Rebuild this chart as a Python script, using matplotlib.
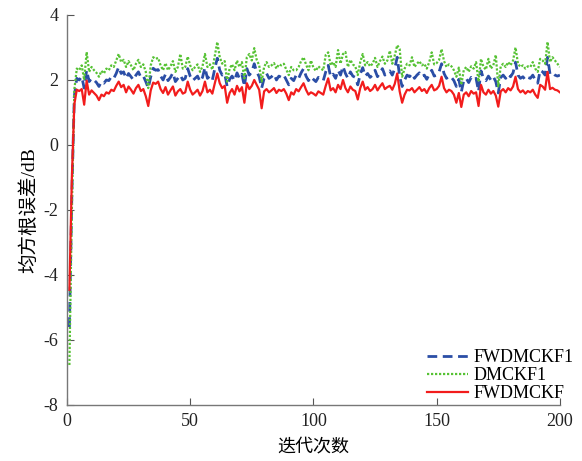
import matplotlib
matplotlib.use("Agg")
import matplotlib.pyplot as plt

iterations = list(range(1, 201))

fwdmckf = [
    -4.46, -1.0, 1.25, 1.70, 1.66, 1.72, 1.24, 1.98, 1.55, 1.68,
    1.60, 1.52, 1.38, 1.55, 1.50, 1.62, 1.58, 1.70, 1.66, 1.82,
    1.95, 1.78, 1.85, 1.62, 1.80, 1.70, 1.58, 1.75, 1.85, 1.66,
    1.72, 1.50, 1.20, 1.68, 1.92, 1.88, 1.95, 1.72, 1.60, 1.78,
    1.55, 1.68, 1.80, 1.52, 1.65, 1.72, 1.58, 1.62, 1.95, 1.70,
    1.55, 1.62, 1.70, 1.52, 1.66, 1.95, 1.62, 1.70, 1.58, 1.90,
    2.20, 1.90, 1.75, 1.82, 1.30, 1.60, 1.72, 1.55, 1.82, 1.65,
    1.78, 1.30, 1.90, 1.72, 1.82, 2.00, 1.85, 1.70, 1.13, 1.65,
    1.72, 1.62, 1.68, 1.75, 1.60, 1.70, 1.66, 1.72, 1.58, 1.38,
    1.62, 1.55, 1.72, 1.65, 1.78, 1.90, 1.70, 1.55, 1.62, 1.58,
    1.52, 1.65, 1.60, 1.55, 1.82, 2.05, 1.68, 1.75, 1.62, 1.85,
    1.72, 2.00, 1.75, 1.62, 1.80, 1.70, 1.66, 1.40, 1.75, 1.95,
    1.70, 1.78, 1.66, 1.72, 1.85, 1.68, 1.80, 1.90, 1.72, 1.78,
    1.82, 1.70, 1.88, 2.20, 1.65, 1.30, 1.55, 1.70, 1.68, 1.75,
    1.62, 1.70, 1.78, 1.66, 1.72, 1.60, 1.75, 1.85, 1.68, 1.72,
    1.82, 2.10, 1.75, 1.62, 1.70, 1.66, 1.55, 1.30, 1.60, 1.17,
    1.55, 1.62, 1.50, 1.66, 1.58, 1.62, 1.20, 1.85, 1.62, 1.55,
    1.70, 1.58, 1.66, 1.52, 1.18, 1.65, 1.72, 1.62, 1.75, 1.68,
    1.80, 2.10, 1.72, 1.62, 1.68, 1.58, 1.66, 1.62, 1.70, 1.55,
    1.45, 1.85, 1.80, 1.70, 2.25, 1.72, 1.76, 1.70, 1.68, 1.62,
]

fwdmckf1 = [
    -5.60, -1.50, 1.50, 2.05, 2.00, 2.10, 1.75, 2.30, 1.95, 2.05,
    2.00, 1.92, 1.80, 1.95, 1.90, 2.00, 1.98, 2.10, 2.05, 2.20,
    2.40, 2.20, 2.25, 2.05, 2.20, 2.10, 2.00, 2.15, 2.25, 2.08,
    2.12, 1.95, 1.75, 2.10, 2.36, 2.30, 2.32, 2.12, 2.00, 2.18,
    1.98, 2.08, 2.22, 1.95, 2.05, 2.15, 2.00, 2.05, 2.35, 2.12,
    1.98, 2.05, 2.12, 1.95, 2.08, 2.38, 2.05, 2.12, 2.00, 2.35,
    2.67, 2.30, 2.15, 2.20, 1.80, 2.02, 2.12, 1.98, 2.22, 2.05,
    2.18, 1.80, 2.35, 2.15, 2.25, 2.50, 2.25, 2.10, 1.75, 2.05,
    2.20, 2.05, 2.10, 2.18, 2.00, 2.12, 2.08, 2.15, 2.00, 1.85,
    2.05, 1.98, 2.15, 2.05, 2.22, 2.35, 2.12, 1.98, 2.10, 2.02,
    1.95, 2.08, 2.02, 1.98, 2.25, 2.45, 2.10, 2.18, 2.05, 2.30,
    2.15, 2.42, 2.20, 2.05, 2.25, 2.12, 2.08, 1.85, 2.18, 2.38,
    2.12, 2.20, 2.08, 2.15, 2.30, 2.10, 2.22, 2.35, 2.15, 2.22,
    2.28, 2.15, 2.35, 2.70, 2.10, 1.80, 2.00, 2.15, 2.10, 2.20,
    2.05, 2.15, 2.22, 2.10, 2.15, 2.02, 2.18, 2.30, 2.12, 2.15,
    2.25, 2.50, 2.20, 2.05, 2.12, 2.08, 1.98, 1.80, 2.02, 1.63,
    1.98, 2.05, 1.92, 2.08, 2.00, 2.05, 1.65, 2.28, 2.05, 1.98,
    2.12, 2.00, 2.10, 1.95, 1.60, 2.08, 2.15, 2.05, 2.18, 2.10,
    2.22, 2.55, 2.15, 2.05, 2.10, 2.00, 2.08, 2.05, 2.15, 2.00,
    1.90, 2.30, 2.25, 2.15, 2.70, 2.18, 2.22, 2.15, 2.12, 2.15,
]

dmckf1 = [
    -6.77, -2.00, 1.70, 2.35, 2.30, 2.45, 2.00, 2.86, 2.25, 2.40,
    2.30, 2.22, 2.10, 2.28, 2.20, 2.35, 2.30, 2.45, 2.40, 2.60,
    2.80, 2.55, 2.62, 2.40, 2.58, 2.45, 2.30, 2.50, 2.62, 2.40,
    2.48, 2.25, 1.75, 2.45, 2.70, 2.65, 2.68, 2.45, 2.30, 2.52,
    2.30, 2.42, 2.58, 2.25, 2.40, 2.80, 2.35, 2.40, 2.72, 2.45,
    2.30, 2.40, 2.48, 2.25, 2.42, 2.80, 2.40, 2.48, 2.32, 2.75,
    3.17, 2.70, 2.50, 2.58, 1.95, 2.35, 2.48, 2.30, 2.60, 2.40,
    2.55, 2.05, 2.70, 2.80, 2.60, 2.98, 2.62, 2.45, 1.95, 2.40,
    2.55, 2.40, 2.45, 2.52, 2.35, 2.48, 2.45, 2.50, 2.32, 2.15,
    2.40, 2.30, 2.30, 2.40, 2.58, 2.70, 2.48, 2.30, 2.60, 2.38,
    2.28, 2.42, 2.35, 2.30, 2.77, 2.85, 2.45, 2.55, 2.40, 2.92,
    2.50, 2.80, 2.86, 2.40, 2.62, 2.48, 2.42, 2.15, 2.55, 2.80,
    2.45, 2.55, 2.42, 2.50, 2.68, 2.40, 2.58, 2.72, 2.50, 2.60,
    2.90, 2.50, 2.75, 3.07, 2.95, 2.10, 2.35, 2.50, 2.45, 2.70,
    2.40, 2.50, 2.58, 2.45, 2.50, 2.35, 2.55, 2.85, 2.48, 2.52,
    2.62, 2.95, 2.58, 2.40, 2.48, 2.42, 2.30, 2.10, 2.38, 1.85,
    2.30, 2.40, 2.25, 2.42, 2.35, 2.55, 1.95, 2.65, 2.40, 2.32,
    2.65, 2.35, 2.45, 2.77, 1.80, 2.42, 2.50, 2.40, 2.55, 2.45,
    2.60, 3.00, 2.50, 2.40, 2.45, 2.35, 2.42, 2.40, 2.55, 2.35,
    2.25, 2.65, 2.60, 2.50, 3.17, 2.55, 2.70, 2.60, 2.50, 2.40,
]

series_names = ["FWDMCKF1", "DMCKF1", "FWDMCKF"]
x_ticks = [0, 50, 100, 150, 200]
y_ticks = [-8, -6, -4, -2, 0, 2, 4]
x_label = "迭代次数"
y_label = "均方根误差/dB"

serif = ["Liberation Serif", "Noto Sans CJK SC", "DejaVu Sans"]

fig = plt.figure(figsize=(5.82, 4.61), dpi=100)
ax = fig.add_axes([0.115, 0.1215, 0.847, 0.846])

ax.plot(iterations, fwdmckf1, color="#2b4ea6", linestyle=(0, (3.5, 2)), linewidth=2.0,
        label=series_names[0])
ax.plot(iterations, dmckf1, color="#56c234", linestyle=(0, (1, 0.8)), linewidth=1.6,
        label=series_names[1])
ax.plot(iterations, fwdmckf, color="#f21c1c", linestyle="-", linewidth=1.6,
        label=series_names[2])

ax.set_xlim(0, 200)
ax.set_ylim(-8, 4)
ax.set_xticks(x_ticks)
ax.set_yticks(y_ticks)
ax.set_xticklabels([str(t) for t in x_ticks], family=serif, fontsize=13)
ax.set_yticklabels([str(t) for t in y_ticks], family=serif, fontsize=13)
ax.tick_params(direction="in", length=5, width=0.8, colors="#555555",
               labelcolor="#222222", pad=6)

for s in ["top", "right"]:
    ax.spines[s].set_visible(False)
for s in ["left", "bottom"]:
    ax.spines[s].set_color("#777777")
    ax.spines[s].set_linewidth(1.0)

ax.set_xlabel(x_label, family=serif, fontsize=13, labelpad=6)
ax.set_ylabel(y_label, family=serif, fontsize=14, labelpad=4)

leg = ax.legend(loc="lower right", bbox_to_anchor=(1.05, -0.02), frameon=False,
                prop={"family": "Liberation Serif", "size": 13},
                handlelength=2.3, handletextpad=0.3, labelspacing=0.05,
                borderaxespad=0.2)

fig.savefig("out.png", dpi=100)
